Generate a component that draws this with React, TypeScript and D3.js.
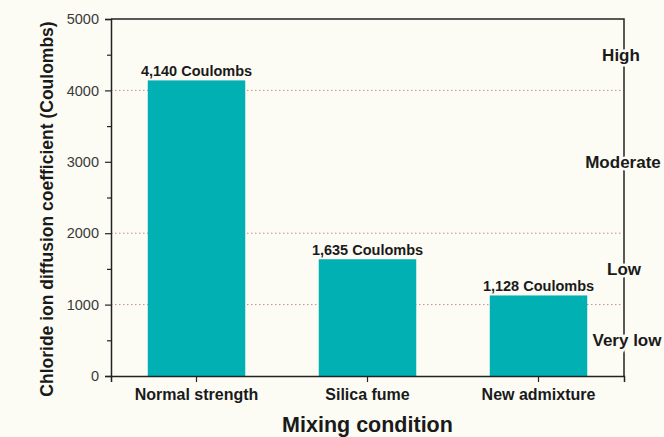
import React, { useRef, useEffect } from 'react'
import * as d3 from 'd3'

const categories = ['Normal strength', 'Silica fume', 'New admixture']
const values = [4140, 1635, 1128]
const valueLabels = ['4,140 Coulombs', '1,635 Coulombs', '1,128 Coulombs']
const yTicks = [0, 1000, 2000, 3000, 4000, 5000]
const minorTicks = [500, 1500, 2500, 3500, 4500]
const refLines = [1000, 2000, 4000]
const zones = [
  { label: 'High', value: 4500, dx: -3 },
  { label: 'Moderate', value: 3000, dx: -1 },
  { label: 'Low', value: 1500, dx: 0 },
  { label: 'Very low', value: 500, dx: 3 },
]

const W = 664
const H = 437
const BG = '#fcfcf5'
const FONT = 'Arial, "Liberation Sans", sans-serif'

export default function App() {
  const svgRef = useRef<SVGSVGElement>(null)

  useEffect(() => {
    if (!svgRef.current) return
    const svg = d3.select(svgRef.current)
    svg.selectAll('*').remove()

    const margin = { top: 19, right: 40, bottom: 61, left: 111 }
    const width = W - margin.left - margin.right
    const height = H - margin.top - margin.bottom

    svg.append('rect').attr('width', W).attr('height', H).attr('fill', BG)

    const g = svg.append('g').attr('transform', `translate(${margin.left},${margin.top})`)

    const x = d3.scaleBand<string>()
      .domain(categories)
      .range([0, width])
      .paddingInner(0.43)
      .paddingOuter(0.215)

    const y = d3.scaleLinear().domain([0, 5000]).range([height, 0])

    // dotted reference lines
    g.selectAll('line.ref')
      .data(refLines)
      .join('line')
      .attr('class', 'ref')
      .attr('x1', 0)
      .attr('x2', width - 3)
      .attr('y1', d => y(d))
      .attr('y2', d => y(d))
      .attr('stroke', '#c98a84')
      .attr('stroke-width', 1)
      .attr('stroke-dasharray', '1.5,2.5')

    // bars
    g.selectAll('rect.bar')
      .data(values)
      .join('rect')
      .attr('class', 'bar')
      .attr('x', (_, i) => x(categories[i])!)
      .attr('width', x.bandwidth())
      .attr('y', d => y(d))
      .attr('height', d => height - y(d))
      .attr('fill', '#00b0b2')

    g.selectAll('text.val')
      .data(values)
      .join('text')
      .attr('class', 'val')
      .attr('x', (_, i) => x(categories[i])! + x.bandwidth() / 2)
      .attr('y', d => y(d) - 4)
      .attr('text-anchor', 'middle')
      .attr('font-family', FONT)
      .attr('font-weight', 'bold')
      .attr('font-size', 14.5)
      .attr('fill', '#1a1a1a')
      .text((_, i) => valueLabels[i])

    // frame (top and right)
    g.append('path')
      .attr('d', `M0,0H${width}V${height}`)
      .attr('fill', 'none')
      .attr('stroke', '#222')
      .attr('stroke-width', 1.5)

    // y axis
    const yAxis = g.append('g')
      .call(d3.axisLeft(y).tickValues(yTicks).tickSize(6).tickPadding(6).tickFormat(d3.format('d')))
    yAxis.select('.domain').attr('stroke', '#222').attr('stroke-width', 1.5)
    yAxis.selectAll('.tick line').attr('stroke', '#222').attr('stroke-width', 1.2)
    yAxis.selectAll('.tick text')
      .attr('font-family', FONT)
      .attr('font-size', 14.5)
      .attr('fill', '#3a3a3a')
    g.append('g')
      .call(d3.axisLeft(y).tickValues(minorTicks).tickSize(4).tickFormat(() => ''))
      .call(s => s.select('.domain').remove())
      .call(s => s.selectAll('.tick line').attr('stroke', '#222').attr('stroke-width', 1.2))

    // x axis
    const xAxis = g.append('g')
      .attr('transform', `translate(0,${height})`)
      .call(d3.axisBottom(x).tickSizeOuter(0).tickSize(6).tickPadding(7))
    xAxis.select('.domain').attr('stroke', '#222').attr('stroke-width', 1.5)
    xAxis.selectAll('.tick line').attr('stroke', '#222').attr('stroke-width', 1.2)
    xAxis.selectAll('.tick text')
      .attr('font-family', FONT)
      .attr('font-weight', 'bold')
      .attr('font-size', 16)
      .attr('fill', '#1a1a1a')

    // zone labels over the right axis
    g.selectAll('text.zone')
      .data(zones)
      .join('text')
      .attr('class', 'zone')
      .attr('x', d => width + d.dx)
      .attr('y', d => y(d.value))
      .attr('text-anchor', 'middle')
      .attr('dy', '0.35em')
      .attr('font-family', FONT)
      .attr('font-weight', 'bold')
      .attr('font-size', 17)
      .attr('fill', '#1a1a1a')
      .attr('stroke', BG)
      .attr('stroke-width', 5)
      .attr('paint-order', 'stroke')
      .text(d => d.label)

    // axis titles
    svg.append('text')
      .attr('transform', `translate(53,209) rotate(-90)`)
      .attr('text-anchor', 'middle')
      .attr('font-family', FONT)
      .attr('font-weight', 'bold')
      .attr('font-size', 17.5)
      .attr('fill', '#1a1a1a')
      .text('Chloride ion diffusion coefficient (Coulombs)')

    svg.append('text')
      .attr('x', margin.left + width / 2)
      .attr('y', 432)
      .attr('text-anchor', 'middle')
      .attr('font-family', FONT)
      .attr('font-weight', 'bold')
      .attr('font-size', 21.5)
      .attr('fill', '#1a1a1a')
      .text('Mixing condition')
  }, [])

  return (
    <div style={{ position: 'fixed', left: 0, top: 0 }}>
      <svg ref={svgRef} width={W} height={H} style={{ display: 'block' }} />
    </div>
  )
}
